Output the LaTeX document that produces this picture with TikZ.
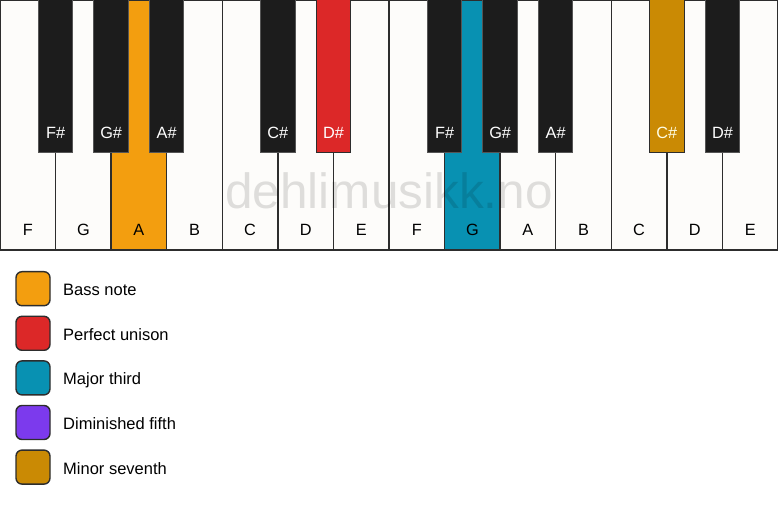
\documentclass[tikz,border=0pt]{standalone}
\usepackage{fontspec}
\setmainfont{Liberation Sans}
\usepackage{tikz}
\usetikzlibrary{positioning,calc}
\definecolor{keywhite}{RGB}{253,252,250}
\definecolor{keyblack}{RGB}{28,28,28}
\definecolor{keyline}{RGB}{45,45,45}
\definecolor{blackline}{RGB}{85,85,85}
\definecolor{bassorange}{RGB}{243,158,15}
\definecolor{unisonred}{RGB}{220,40,40}
\definecolor{thirdteal}{RGB}{8,145,178}
\definecolor{fifthviolet}{RGB}{124,58,237}
\definecolor{seventhgold}{RGB}{202,138,4}
\tikzstyle{whitekey} = [rectangle, minimum width=55.57pt, minimum height=250pt, inner sep=0pt, outer sep=0pt, draw=keyline, line width=1.4pt, fill=keywhite]
\tikzstyle{blackkey} = [rectangle, anchor=north, minimum width=34.5pt, minimum height=153pt, inner sep=0pt, outer sep=0pt, draw=blackline, line width=1pt, fill=keyblack]
\tikzstyle{keytext} = [anchor=base, inner sep=0pt, font=\fontsize{16.3}{18}\selectfont]
\tikzstyle{legendbox} = [rectangle, rounded corners=6pt, minimum size=34pt, inner sep=0pt, outer sep=0pt, draw=keyline, line width=1.4pt]
\tikzstyle{legendtext} = [inner sep=0pt, text height=14pt, text depth=0pt, font=\fontsize{16.5}{18}\selectfont]

\begin{document}
\begin{tikzpicture}[x=1pt, y=1pt]
\useasboundingbox (0,0) rectangle (778,506);
\fill[white] (0,0) rectangle (778,506);

% white keys
\node[whitekey] (wF1) at (27.79,381) {};
\node[whitekey, right=0pt of wF1] (wG1) {};
\node[whitekey, right=0pt of wG1, fill=bassorange] (wA1) {};
\node[whitekey, right=0pt of wA1] (wB1) {};
\node[whitekey, right=0pt of wB1] (wC1) {};
\node[whitekey, right=0pt of wC1] (wD1) {};
\node[whitekey, right=0pt of wD1] (wE1) {};
\node[whitekey, right=0pt of wE1] (wF2) {};
\node[whitekey, right=0pt of wF2, fill=thirdteal] (wG2) {};
\node[whitekey, right=0pt of wG2] (wA2) {};
\node[whitekey, right=0pt of wA2] (wB2) {};
\node[whitekey, right=0pt of wB2] (wC2) {};
\node[whitekey, right=0pt of wC2] (wD2) {};
\node[whitekey, right=0pt of wD2] (wE2) {};

% black keys
\node[blackkey] (bFs1) at (wF1.north east) {};
\node[blackkey] (bGs1) at (wG1.north east) {};
\node[blackkey] (bAs1) at (wA1.north east) {};
\node[blackkey] (bCs1) at (wC1.north east) {};
\node[blackkey, fill=unisonred, draw=keyline] (bDs1) at (wD1.north east) {};
\node[blackkey] (bFs2) at (wF2.north east) {};
\node[blackkey] (bGs2) at (wG2.north east) {};
\node[blackkey] (bAs2) at (wA2.north east) {};
\node[blackkey, fill=seventhgold, draw=keyline] (bCs2) at (wC2.north east) {};
\node[blackkey] (bDs2) at (wD2.north east) {};

% key names
\node[keytext] (tF1) at ($(wF1.south)+(0,14)$) {F};
\node[keytext] (tG1) at ($(wG1.south)+(0,14)$) {G};
\node[keytext] (tA1) at ($(wA1.south)+(0,14)$) {A};
\node[keytext] (tB1) at ($(wB1.south)+(0,14)$) {B};
\node[keytext] (tC1) at ($(wC1.south)+(0,14)$) {C};
\node[keytext] (tD1) at ($(wD1.south)+(0,14)$) {D};
\node[keytext] (tE1) at ($(wE1.south)+(0,14)$) {E};
\node[keytext] (tF2) at ($(wF2.south)+(0,14)$) {F};
\node[keytext] (tG2) at ($(wG2.south)+(0,14)$) {G};
\node[keytext] (tA2) at ($(wA2.south)+(0,14)$) {A};
\node[keytext] (tB2) at ($(wB2.south)+(0,14)$) {B};
\node[keytext] (tC2) at ($(wC2.south)+(0,14)$) {C};
\node[keytext] (tD2) at ($(wD2.south)+(0,14)$) {D};
\node[keytext] (tE2) at ($(wE2.south)+(0,14)$) {E};

\node[keytext, text=white] (tFs1) at ($(bFs1.south)+(0,14)$) {F\#};
\node[keytext, text=white] (tGs1) at ($(bGs1.south)+(0,14)$) {G\#};
\node[keytext, text=white] (tAs1) at ($(bAs1.south)+(0,14)$) {A\#};
\node[keytext, text=white] (tCs1) at ($(bCs1.south)+(0,14)$) {C\#};
\node[keytext, text=white] (tDs1) at ($(bDs1.south)+(0,14)$) {D\#};
\node[keytext, text=white] (tFs2) at ($(bFs2.south)+(0,14)$) {F\#};
\node[keytext, text=white] (tGs2) at ($(bGs2.south)+(0,14)$) {G\#};
\node[keytext, text=white] (tAs2) at ($(bAs2.south)+(0,14)$) {A\#};
\node[keytext, text=white!90!yellow] (tCs2) at ($(bCs2.south)+(0,14)$) {C\#};
\node[keytext, text=white] (tDs2) at ($(bDs2.south)+(0,14)$) {D\#};

% watermark
\node[anchor=base, inner sep=0pt, font=\fontsize{49.5}{52}\selectfont, text=black, text opacity=0.12] (mark) at (389,297.5) {dehlimusikk.no};

% legend
\node[legendbox, fill=bassorange] (lgBass) at (33,217.3) {};
\node[legendtext, right=13pt of lgBass] (ltBass) {Bass note};
\node[legendbox, fill=unisonred, below=10.6pt of lgBass] (lgUnison) {};
\node[legendtext, right=13pt of lgUnison] (ltUnison) {Perfect unison};
\node[legendbox, fill=thirdteal, below=10.6pt of lgUnison] (lgThird) {};
\node[legendtext, right=13pt of lgThird] (ltThird) {Major third};
\node[legendbox, fill=fifthviolet, below=10.6pt of lgThird] (lgFifth) {};
\node[legendtext, right=13pt of lgFifth] (ltFifth) {Diminished fifth};
\node[legendbox, fill=seventhgold, below=10.6pt of lgFifth] (lgSeventh) {};
\node[legendtext, right=13pt of lgSeventh] (ltSeventh) {Minor seventh};
\end{tikzpicture}
\end{document}
